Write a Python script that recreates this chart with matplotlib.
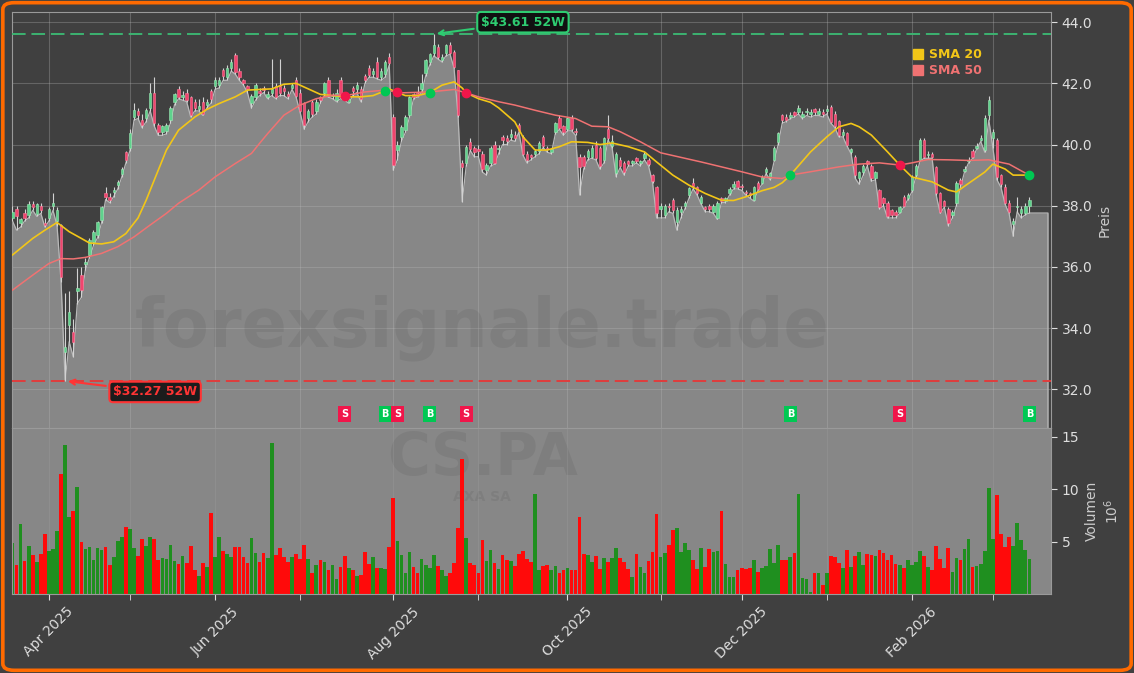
import numpy as np
import pandas as pd
import matplotlib
matplotlib.use("Agg")
import matplotlib.pyplot as plt
from matplotlib.lines import Line2D
from matplotlib.patches import FancyBboxPatch

# CS.PA (AXA SA) daily bars, Euronext Paris, 19.03.2025 - 13.03.2026
opens = [
    37.60, 37.90, 37.45, 37.75, 37.70, 38.05, 37.72, 38.00, 37.45, 37.60, 38.00, 37.50,
    37.37, 33.20, 34.10, 33.88, 35.21, 35.73, 36.09, 36.39, 36.82, 37.04, 37.53, 38.42,
    38.30, 38.45, 38.67, 39.05, 39.75, 39.88, 40.90, 41.10, 40.80, 40.86, 41.18, 41.67,
    40.63, 40.40, 40.45, 40.80, 41.39, 41.80, 41.55, 41.70, 41.55, 41.40, 41.15, 41.40,
    41.30, 41.75, 41.90, 41.95, 42.45, 42.20, 42.50, 42.92, 42.40, 42.10, 41.90, 41.35,
    41.55, 41.75, 41.85, 41.55, 41.70, 41.90, 41.90, 41.85, 41.65, 41.85, 42.10, 41.70,
    41.35, 40.86, 41.40, 41.10, 41.55, 41.70, 42.10, 41.60, 41.45, 42.10, 41.65, 41.40,
    41.85, 41.80, 41.80, 42.25, 42.50, 42.30, 42.70, 42.20, 42.30, 42.87, 40.90, 39.82,
    40.25, 40.47, 40.96, 41.65, 41.70, 41.80, 42.33, 42.70, 42.98, 43.20, 42.75, 42.98,
    43.25, 43.03, 42.43, 39.39, 39.39, 40.09, 39.90, 39.85, 39.70, 39.16, 39.40, 40.00,
    39.85, 40.25, 40.20, 40.25, 40.30, 40.65, 40.25, 39.70, 39.65, 39.70, 39.80, 40.25,
    39.90, 39.75, 40.40, 40.86, 40.60, 40.50, 40.86, 40.45, 39.60, 39.60, 39.60, 39.60,
    40.00, 39.90, 39.50, 40.50, 39.95, 39.07, 39.50, 39.40, 39.45, 39.40, 39.55, 39.40,
    39.55, 39.50, 39.00, 38.60, 37.90, 37.70, 38.00, 38.20, 37.46, 37.80, 38.00, 38.35,
    38.75, 38.60, 38.10, 37.95, 38.00, 37.80, 37.60, 38.25, 38.15, 38.40, 38.60, 38.80,
    38.65, 38.45, 38.40, 38.20, 38.75, 38.75, 39.10, 38.90, 39.50, 40.08, 40.95, 40.90,
    40.90, 41.05, 41.06, 40.90, 41.05, 41.00, 41.15, 41.00, 41.05, 41.10, 41.22, 41.00,
    40.77, 40.30, 40.37, 39.75, 39.60, 38.90, 39.10, 39.45, 39.30, 38.90, 38.50, 38.25,
    38.10, 37.85, 37.80, 37.80, 38.30, 38.25, 38.50, 39.00, 39.50, 40.14, 39.65, 39.70,
    39.26, 38.40, 38.15, 37.90, 37.70, 38.08, 38.85, 39.15, 39.45, 39.80, 39.90, 40.15,
    39.82, 40.96, 40.20, 40.14, 39.00, 38.60, 38.10, 37.40, 37.95, 37.75, 37.75, 38.00,
]
highs = [
    38.00, 38.00, 37.60, 37.90, 38.15, 38.15, 38.10, 38.10, 37.60, 37.95, 38.40, 37.95,
    37.40, 35.14, 35.20, 34.30, 35.96, 36.00, 36.30, 36.95, 37.20, 37.50, 38.00, 38.60,
    38.40, 38.60, 38.85, 39.25, 39.80, 40.50, 41.35, 41.20, 41.00, 41.20, 42.00, 42.20,
    40.70, 40.65, 40.70, 41.25, 41.70, 41.90, 41.75, 41.80, 41.60, 41.50, 41.50, 41.55,
    41.50, 41.80, 42.20, 42.20, 42.50, 42.60, 42.80, 43.00, 42.50, 42.15, 41.95, 41.65,
    42.00, 41.85, 41.90, 41.75, 42.80, 42.00, 42.80, 41.95, 41.75, 42.00, 42.20, 41.80,
    41.40, 41.15, 41.45, 41.50, 41.60, 42.05, 42.20, 41.70, 41.80, 42.20, 41.70, 41.60,
    41.90, 42.05, 41.90, 42.30, 42.60, 42.50, 42.85, 42.50, 42.75, 43.00, 41.00, 40.10,
    40.65, 40.95, 41.60, 41.70, 41.90, 42.30, 42.80, 43.00, 43.61, 43.30, 42.95, 43.30,
    43.35, 43.10, 42.45, 39.50, 40.00, 40.20, 39.95, 40.00, 39.80, 39.40, 39.95, 40.10,
    40.00, 40.30, 40.30, 40.50, 40.45, 40.70, 40.30, 39.80, 39.70, 39.85, 40.10, 40.30,
    39.95, 39.90, 40.75, 40.95, 40.65, 40.90, 40.95, 40.55, 39.70, 39.65, 39.85, 40.00,
    40.10, 39.95, 40.25, 40.96, 40.30, 39.75, 39.60, 39.45, 39.50, 39.50, 39.60, 39.50,
    39.75, 39.55, 39.05, 38.65, 38.10, 38.05, 38.10, 38.25, 37.95, 38.00, 38.15, 38.60,
    38.90, 38.65, 38.35, 38.00, 38.05, 38.05, 38.15, 38.30, 38.30, 38.60, 38.80, 38.85,
    38.70, 38.50, 38.45, 38.65, 38.80, 39.00, 39.25, 39.10, 39.95, 40.40, 41.00, 41.00,
    41.05, 41.10, 41.30, 41.10, 41.20, 41.15, 41.20, 41.20, 41.15, 41.30, 41.30, 41.10,
    40.80, 40.50, 40.40, 39.90, 39.65, 39.15, 39.35, 39.50, 39.35, 39.15, 38.55, 38.30,
    38.15, 37.90, 37.85, 38.00, 38.35, 38.40, 39.00, 39.35, 40.20, 40.20, 39.80, 39.75,
    39.30, 38.45, 38.20, 37.95, 37.85, 38.80, 38.90, 39.30, 39.60, 39.85, 40.05, 40.30,
    40.95, 41.58, 40.50, 40.20, 39.05, 38.70, 38.20, 37.60, 38.30, 38.00, 38.10, 38.30,
]
lows = [
    37.50, 37.20, 37.30, 37.50, 37.60, 37.85, 37.65, 37.75, 37.30, 37.50, 37.85, 37.35,
    35.50, 32.27, 33.55, 33.06, 34.80, 35.00, 35.90, 36.30, 36.70, 36.95, 37.45, 38.20,
    38.10, 38.30, 38.55, 38.95, 39.40, 39.80, 40.80, 40.85, 40.55, 40.75, 41.10, 40.60,
    40.30, 40.30, 40.35, 40.70, 41.30, 41.50, 41.45, 41.40, 40.90, 41.10, 41.10, 40.95,
    41.20, 41.35, 41.80, 41.85, 42.10, 42.10, 42.40, 42.30, 42.10, 41.95, 41.70, 41.19,
    41.45, 41.60, 41.70, 41.50, 41.60, 41.50, 41.60, 41.60, 41.50, 41.80, 41.55, 41.05,
    40.50, 40.75, 40.90, 41.00, 41.35, 41.60, 41.55, 41.50, 41.40, 41.50, 41.45, 41.35,
    41.60, 41.70, 41.40, 42.00, 42.20, 42.20, 42.15, 42.10, 42.20, 42.60, 39.16, 39.50,
    40.10, 40.40, 40.90, 41.50, 41.55, 41.70, 42.25, 42.60, 42.90, 42.80, 42.70, 42.90,
    42.95, 42.50, 40.90, 38.13, 39.30, 39.80, 39.60, 39.60, 39.10, 39.00, 39.30, 39.35,
    39.70, 40.00, 40.00, 40.15, 40.10, 40.40, 39.65, 39.40, 39.50, 39.60, 39.70, 39.90,
    39.75, 39.70, 40.35, 40.50, 40.30, 40.45, 40.45, 40.30, 38.35, 39.20, 39.50, 39.55,
    39.50, 39.20, 39.40, 40.15, 39.90, 38.95, 39.25, 39.00, 39.30, 39.30, 39.40, 39.30,
    39.50, 39.30, 38.75, 37.60, 37.60, 37.60, 37.80, 37.75, 37.20, 37.60, 37.90, 38.25,
    38.55, 38.35, 38.05, 37.80, 37.80, 37.75, 37.55, 38.10, 38.10, 38.35, 38.55, 38.55,
    38.50, 38.35, 38.25, 38.15, 38.50, 38.70, 39.05, 38.85, 39.45, 40.00, 40.70, 40.75,
    40.85, 40.90, 41.00, 40.85, 40.95, 40.90, 40.95, 40.95, 40.90, 41.00, 40.70, 40.55,
    40.25, 40.25, 39.95, 39.70, 38.90, 38.70, 39.00, 39.30, 38.80, 38.85, 37.90, 38.00,
    37.60, 37.60, 37.60, 37.75, 37.95, 38.20, 38.45, 38.95, 39.45, 39.55, 39.55, 39.55,
    38.35, 37.75, 37.95, 37.35, 37.60, 38.00, 38.60, 39.10, 39.40, 39.55, 39.85, 40.10,
    39.75, 40.80, 39.90, 38.85, 38.60, 38.05, 37.75, 37.00, 37.80, 37.60, 37.70, 37.76,
]
closes = [
    37.80, 37.65, 37.55, 37.60, 38.05, 37.95, 38.07, 37.85, 37.37, 37.90, 38.10, 37.85,
    35.68, 33.39, 34.53, 33.55, 35.32, 35.24, 36.17, 36.88, 37.15, 37.47, 37.96, 38.27,
    38.20, 38.50, 38.77, 39.20, 39.50, 40.37, 41.12, 40.95, 40.63, 41.12, 41.67, 40.70,
    40.40, 40.60, 40.65, 41.20, 41.64, 41.55, 41.62, 41.45, 40.96, 41.20, 41.25, 41.00,
    41.40, 41.50, 42.10, 42.10, 42.25, 42.50, 42.70, 42.37, 42.20, 42.00, 41.83, 41.60,
    41.94, 41.70, 41.78, 41.65, 41.80, 41.55, 41.70, 41.75, 41.60, 41.95, 41.60, 41.10,
    40.63, 41.10, 41.00, 41.40, 41.45, 42.00, 41.60, 41.62, 41.70, 41.55, 41.50, 41.50,
    41.75, 41.95, 41.50, 42.10, 42.27, 42.40, 42.20, 42.40, 42.70, 42.65, 39.33, 39.98,
    40.58, 40.90, 41.56, 41.55, 41.60, 42.00, 42.76, 42.95, 43.25, 42.87, 42.85, 43.25,
    43.00, 42.54, 40.96, 39.26, 39.93, 39.87, 39.75, 39.80, 39.20, 39.33, 39.90, 39.40,
    39.90, 40.15, 40.10, 40.35, 40.20, 40.45, 39.70, 39.50, 39.60, 39.80, 40.04, 39.95,
    39.85, 39.85, 40.70, 40.53, 40.40, 40.86, 40.50, 40.40, 39.26, 39.30, 39.80, 39.90,
    39.55, 39.30, 40.20, 40.20, 40.10, 39.70, 39.30, 39.10, 39.35, 39.45, 39.45, 39.45,
    39.70, 39.35, 38.80, 37.75, 38.00, 38.00, 37.95, 37.85, 37.86, 37.90, 38.10, 38.57,
    38.65, 38.40, 38.30, 37.90, 37.90, 38.00, 38.10, 38.15, 38.25, 38.55, 38.70, 38.60,
    38.60, 38.40, 38.35, 38.60, 38.55, 38.95, 39.20, 39.06, 39.88, 40.37, 40.80, 40.80,
    40.95, 40.95, 41.20, 41.00, 41.10, 41.05, 41.05, 41.10, 41.00, 41.15, 40.73, 40.60,
    40.30, 40.40, 39.98, 39.85, 39.00, 39.10, 39.30, 39.35, 38.90, 39.10, 37.95, 38.10,
    37.65, 37.70, 37.70, 37.95, 38.00, 38.35, 38.94, 39.30, 40.14, 39.60, 39.70, 39.60,
    38.40, 37.80, 38.00, 37.45, 37.80, 38.74, 38.70, 39.20, 39.50, 39.60, 39.95, 40.20,
    40.86, 41.45, 40.40, 38.94, 38.70, 38.10, 37.80, 37.50, 38.00, 37.90, 38.00, 38.20,
]
# volume in millions of shares
volume_m = [
    4.9, 2.8, 6.7, 3.2, 4.6, 3.75, 3.1, 3.8, 5.76, 4.15, 4.3, 6.05,
    11.5, 14.2, 7.4, 7.95, 10.2, 5.0, 4.3, 4.5, 3.3, 4.4, 4.2, 4.5,
    2.8, 3.6, 5.1, 5.5, 6.4, 6.25, 4.4, 3.65, 5.3, 4.6, 5.5, 5.3,
    3.3, 3.5, 3.4, 4.7, 3.2, 2.9, 3.65, 3.0, 4.6, 2.3, 1.76, 3.0,
    2.6, 7.75, 3.6, 5.5, 4.15, 3.85, 3.6, 4.5, 4.5, 3.6, 3.0, 5.4,
    3.9, 3.1, 3.95, 3.5, 14.4, 3.75, 4.4, 3.6, 3.1, 3.6, 3.85, 3.4,
    4.7, 3.4, 2.0, 2.8, 3.3, 3.1, 2.3, 2.8, 1.5, 2.6, 3.65, 2.5,
    2.3, 1.76, 1.85, 4.05, 2.9, 3.6, 2.5, 2.5, 2.4, 4.5, 9.2, 5.1,
    3.75, 2.0, 4.05, 2.6, 2.05, 3.4, 2.8, 2.5, 3.75, 2.7, 2.3, 1.76,
    2.05, 3.0, 6.3, 12.9, 5.4, 3.0, 2.8, 2.0, 5.2, 3.2, 4.2, 3.0,
    2.4, 3.75, 3.3, 3.2, 2.7, 3.85, 4.15, 3.4, 3.1, 9.55, 2.3, 2.7,
    2.8, 2.3, 2.7, 2.05, 2.3, 2.5, 2.3, 2.3, 7.4, 3.85, 3.75, 3.1,
    3.65, 2.4, 3.5, 3.1, 3.5, 4.4, 3.5, 3.1, 2.4, 1.67, 3.85, 2.6,
    2.05, 3.2, 4.05, 7.65, 3.6, 3.95, 4.7, 6.1, 6.3, 4.05, 4.9, 4.2,
    3.3, 2.4, 4.4, 2.6, 4.3, 4.05, 4.15, 7.95, 2.9, 1.67, 1.67, 2.3,
    2.5, 2.4, 2.5, 3.3, 2.1, 2.5, 2.7, 4.3, 3.0, 4.7, 3.3, 3.3,
    3.6, 3.95, 9.55, 1.57, 1.5, 0.25, 2.05, 2.05, 0.9, 2.05, 3.65, 3.6,
    3.0, 2.5, 4.2, 2.6, 3.65, 4.05, 2.8, 3.85, 3.75, 3.65, 4.2, 3.95,
    3.3, 3.75, 2.9, 2.8, 2.5, 3.3, 2.8, 3.1, 4.15, 3.65, 2.6, 2.3,
    4.6, 3.4, 2.5, 4.4, 2.1, 3.5, 3.3, 4.3, 5.3, 2.6, 2.7, 2.9,
    4.15, 10.1, 5.3, 9.5, 5.75, 4.5, 5.5, 4.6, 6.8, 5.2, 4.2, 3.4,
]

# moving averages (bar index, value)
sma20_idx = [0, 5, 8, 11, 14, 17, 19, 22, 25, 28, 31, 33, 35, 38, 41, 45, 48, 51, 55, 58,
             61, 64, 67, 70, 73, 76, 79, 83, 86, 89, 92, 93, 95, 97, 100, 103, 106, 109, 111, 112,
             115, 118, 120, 124, 126, 129, 132, 135, 138, 142, 145, 148, 152, 156, 159, 163, 167, 171, 175, 178,
             181, 185, 188, 190, 192, 197, 201, 204, 207, 209, 212, 216, 219, 222, 227, 231, 233, 236, 240, 242,
             245, 247, 251]
sma20_val = [36.39, 36.93, 37.20, 37.45, 37.15, 36.93, 36.78, 36.75, 36.82, 37.09, 37.60, 38.18, 38.84, 39.82, 40.47, 40.90, 41.15, 41.34, 41.56, 41.78,
             41.80, 41.82, 41.97, 42.00, 41.82, 41.64, 41.60, 41.56, 41.56, 41.60, 41.76, 41.82, 41.70, 41.60, 41.60, 41.70, 41.94, 42.05, 41.85, 41.69,
             41.50, 41.38, 41.20, 40.74, 40.25, 39.82, 39.82, 39.93, 40.09, 40.07, 40.00, 40.05, 39.93, 39.76, 39.43, 39.00, 38.67, 38.40, 38.18, 38.17,
             38.29, 38.49, 38.60, 38.75, 39.00, 39.76, 40.25, 40.58, 40.69, 40.58, 40.31, 39.76, 39.33, 38.94, 38.78, 38.51, 38.45, 38.73, 39.10, 39.36,
             39.20, 39.00, 39.00]
sma50_idx = [0, 5, 9, 12, 15, 18, 22, 26, 30, 34, 38, 41, 46, 50, 55, 59, 61, 63, 67, 71,
             75, 79, 83, 87, 92, 96, 103, 109, 112, 115, 120, 124, 129, 134, 139, 143, 147, 150, 155, 160,
             165, 170, 175, 180, 185, 190, 192, 197, 204, 209, 214, 219, 222, 226, 231, 236, 241, 246, 249, 251]
sma50_val = [35.24, 35.73, 36.11, 36.27, 36.26, 36.31, 36.44, 36.66, 36.98, 37.37, 37.75, 38.08, 38.51, 38.94, 39.38, 39.71, 40.04, 40.36, 40.96, 41.29,
             41.50, 41.61, 41.62, 41.72, 41.78, 41.69, 41.72, 41.80, 41.69, 41.56, 41.40, 41.29, 41.12, 40.96, 40.85, 40.60, 40.58, 40.42, 40.09, 39.73,
             39.58, 39.43, 39.27, 39.11, 38.94, 38.89, 39.00, 39.11, 39.27, 39.36, 39.40, 39.33, 39.40, 39.51, 39.50, 39.48, 39.50, 39.36, 39.14, 39.00]

# SMA crossings -> signals
cross_idx = [82, 92, 95, 103, 112, 192, 219, 251]
cross_val = [41.58, 41.76, 41.71, 41.69, 41.69, 39.00, 39.33, 39.00]
cross_sig = ["S", "B", "S", "B", "S", "B", "S", "B"]

high_52w = 43.61
low_52w = 32.27
holidays = ["2025-04-18", "2025-04-21", "2025-05-01", "2025-12-25", "2025-12-26", "2026-01-01"]

# colours
BG = "#404040"
PANEL = "#878787"
UP_C = "#5fd38d"
DN_C = "#f0446e"
SMA20_C = "#f2c618"
SMA50_C = "#f07272"
BUY_C = "#00c853"
SELL_C = "#f0164a"
TXT = "#dedede"

dates = pd.bdate_range("2025-03-19", "2026-03-13")
dates = dates[~dates.isin(pd.to_datetime(holidays))]
o = np.array(opens)
h = np.array(highs)
l = np.array(lows)
c = np.array(closes)
n = len(c)
x = np.arange(n)
dates = dates[:n]
up = c >= o

month_start = [i for i in range(1, n) if dates[i].month != dates[i - 1].month]
major = [i for i in month_start if dates[i].month % 2 == 0]
minor = [i for i in month_start if dates[i].month % 2 == 1]

fig = plt.figure(figsize=(11.34, 6.73), dpi=100, facecolor=BG)
ax = fig.add_axes([0.011, 0.364, 0.916, 0.618])
ax2 = fig.add_axes([0.011, 0.117, 0.916, 0.247], sharex=ax)

# --- price panel ---
ax.set_facecolor(BG)
x_end = 255.6
xa = np.append(x, x_end)
ya = np.append(l, l[-1])
ax.fill_between(xa, ya, 30.0, color=PANEL, lw=0, zorder=1)
ax.plot(np.append(xa, x_end), np.append(ya, 30.0), color="#b9b9b9", lw=0.9, zorder=2)

ax.text(482 / 1134, 1 - 328 / 673, "forexsignale.trade", transform=fig.transFigure,
        ha="center", va="center", fontsize=48, fontweight="bold", color="black",
        alpha=0.065, zorder=2.5)

ax.vlines(x, l, h, color="#d2d2d2", lw=0.8, zorder=3)
body = np.maximum(np.abs(c - o), 0.03)
ax.bar(x, body, bottom=np.minimum(o, c), width=0.6,
       color=np.where(up, UP_C, DN_C), edgecolor=np.where(up, "#9fe8b6", "#ff7a98"),
       linewidth=0.4, zorder=4)

ax.plot(sma20_idx, sma20_val, color=SMA20_C, lw=1.2, zorder=5)
ax.plot(sma50_idx, sma50_val, color=SMA50_C, lw=1.1, zorder=5)
for i, v, s in zip(cross_idx, cross_val, cross_sig):
    col = BUY_C if s == "B" else SELL_C
    ax.plot(i, v, "o", color=col, markersize=6, zorder=6)
    ax.text(i, 31.19, s, ha="center", va="center", color="white", fontsize=7,
            fontweight="bold", zorder=7,
            bbox=dict(boxstyle="square,pad=0.28", fc=col, ec="none"))

ax.axhline(high_52w, color="#3cb371", ls=(0, (7, 3)), lw=1.4, zorder=3)
ax.axhline(low_52w, color="#e03c3c", ls=(0, (7, 3)), lw=1.4, zorder=3)
ax.annotate(r"\$%.2f 52W" % high_52w, xy=(int(np.argmax(h)), high_52w), xytext=(126, 44.0),
            ha="center", va="center", fontsize=9, fontweight="bold", color="#2ecc71", zorder=8,
            bbox=dict(boxstyle="round,pad=0.3", fc="#111111", ec="#2ecc71", lw=1.5),
            arrowprops=dict(arrowstyle="->", color="#2ecc71", lw=1.5))
ax.annotate(r"\$%.2f 52W" % low_52w, xy=(int(np.argmin(l)), low_52w), xytext=(35.2, 31.91),
            ha="center", va="center", fontsize=9, fontweight="bold", color="#ff3434", zorder=8,
            bbox=dict(boxstyle="round,pad=0.3", fc="#1c1c1c", ec="#ff3434", lw=1.5),
            arrowprops=dict(arrowstyle="->", color="#ff3434", lw=1.5))

handles = [Line2D([], [], marker="s", ls="None", color=SMA20_C, markersize=7),
           Line2D([], [], marker="s", ls="None", color=SMA50_C, markersize=7)]
leg = ax.legend(handles, ["SMA 20", "SMA 50"], loc="upper right", bbox_to_anchor=(0.936, 0.92),
                frameon=False, handlelength=0.8, handletextpad=0.5, labelspacing=0.25,
                borderpad=0.2, borderaxespad=0, prop={"weight": "bold", "size": 9})
for t, col in zip(leg.get_texts(), [SMA20_C, SMA50_C]):
    t.set_color(col)

ax.set_ylim(30.73, 44.33)
ax.set_xlim(0, 256.4)
ax.set_yticks([32, 34, 36, 38, 40, 42, 44])
ax.yaxis.set_major_formatter(matplotlib.ticker.FormatStrFormatter("%.1f"))
ax.yaxis.tick_right()
ax.yaxis.set_label_position("right")
ax.set_ylabel("Preis", color="#cccccc", fontsize=10)
ax.tick_params(axis="y", colors=TXT, labelsize=10, length=4)
ax.tick_params(axis="x", which="both", length=0, labelbottom=False)
ax.set_xticks(major)
ax.set_xticks(minor, minor=True)
ax.grid(True, which="both", axis="x", color="#bbbbbb", alpha=0.3, lw=0.8)
ax.grid(True, which="major", axis="y", color="#bbbbbb", alpha=0.3, lw=0.8)
for sp in ax.spines.values():
    sp.set_color("#9a9a9a")

# --- volume panel ---
ax2.set_facecolor(PANEL)
ax2.text(482 / 1134, 1 - 458 / 673, "CS.PA", transform=fig.transFigure, ha="center", va="center",
         fontsize=42, fontweight="bold", color="black", alpha=0.065, zorder=0.5)
ax2.text(482 / 1134, 1 - 497 / 673, "AXA SA", transform=fig.transFigure, ha="center", va="center",
         fontsize=10, fontweight="bold", color="black", alpha=0.065, zorder=0.5)
ax2.bar(x, volume_m, width=0.9, color=np.where(up, "#1f8f1f", "#ff0a0a"), zorder=2)
ax2.set_ylim(0, 15.85)
ax2.set_yticks([5, 10, 15])
ax2.yaxis.tick_right()
ax2.yaxis.set_label_position("right")
ax2.set_ylabel("Volumen\n$10^6$", color="#cccccc", fontsize=10)
ax2.tick_params(axis="y", colors=TXT, labelsize=10, length=4)
ax2.set_xticks(major)
ax2.set_xticks(minor, minor=True)
ax2.set_xticklabels([dates[i].strftime("%b %Y") for i in major], rotation=45, ha="center")
ax2.tick_params(axis="x", which="both", colors=TXT, labelsize=10, length=4)
ax2.grid(True, which="both", axis="x", color="#bbbbbb", alpha=0.15, lw=0.8)
for sp in ax2.spines.values():
    sp.set_color("#9a9a9a")

frame = FancyBboxPatch((0.0025, 0.004), 0.995, 0.992, boxstyle="round,pad=0,rounding_size=0.01",
                       transform=fig.transFigure, fill=False, ec="#ff6a00", lw=2.6, zorder=10)
fig.patches.append(frame)

fig.savefig("out.png", dpi=100, facecolor=fig.get_facecolor())
